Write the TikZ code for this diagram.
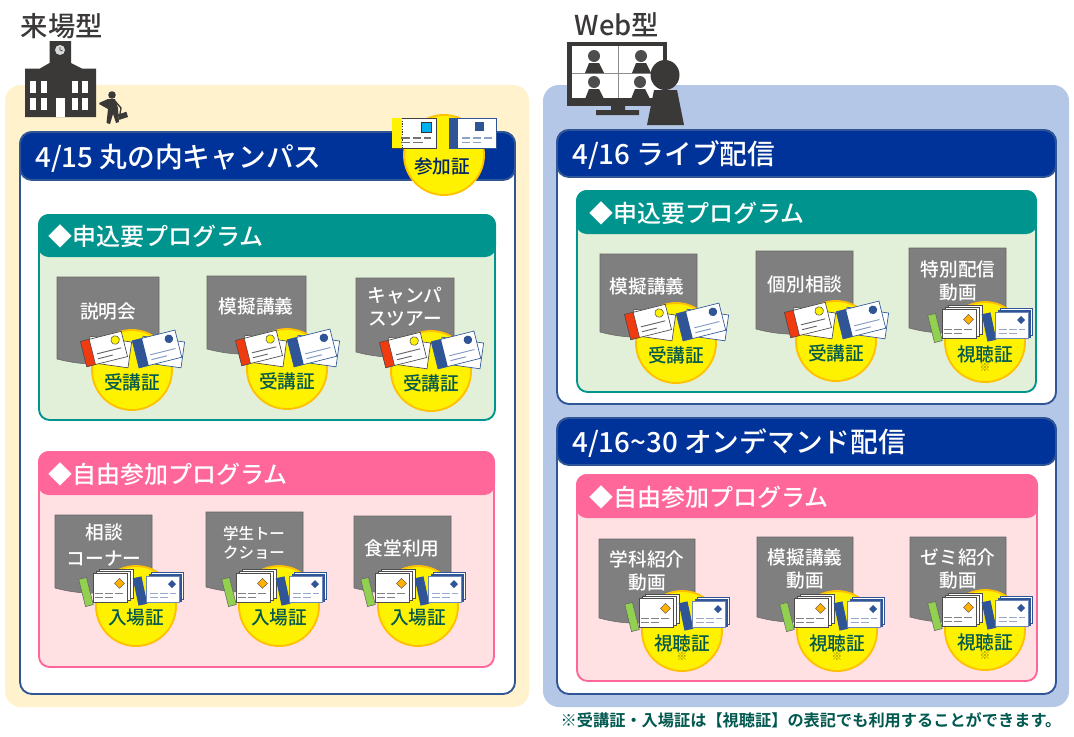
\documentclass[tikz,border=0pt]{standalone}
\usepackage{fontspec}
\setmainfont[BoldFont={Noto Sans CJK JP Bold}]{Noto Sans CJK JP}
\newfontfamily\jpmed{Noto Sans CJK JP Medium}
\usetikzlibrary{calc}

\definecolor{inkdark}{HTML}{3B3838}
\definecolor{beigebg}{HTML}{FFF2CC}
\definecolor{bluebg}{HTML}{B4C7E7}
\definecolor{navyhead}{HTML}{003399}
\definecolor{navyline}{HTML}{2F5597}
\definecolor{tealhead}{HTML}{00948E}
\definecolor{tealbody}{HTML}{E2F0D9}
\definecolor{pinkhead}{HTML}{FF6699}
\definecolor{pinkbody}{HTML}{FFE1E4}
\definecolor{taggray}{HTML}{7F7F7F}
\definecolor{badgeline}{HTML}{FFC000}
\definecolor{badgetext}{HTML}{00584F}
\definecolor{cardred}{HTML}{F03A0F}
\definecolor{cardgreen}{HTML}{92D050}
\definecolor{skyblue}{HTML}{00B0F0}
\definecolor{gold}{HTML}{FFB000}

\tikzset{
  x=0.75pt, y=-0.75pt,
  titletext/.style={font=\jpmed\fontsize{20.5}{24}\selectfont, text=inkdark, inner sep=0pt},
  headtext/.style={font=\jpmed\fontsize{20.8}{24}\selectfont, text=white, anchor=west, inner sep=0pt},
  subheadtext/.style={font=\jpmed\fontsize{18}{22}\selectfont, text=white, anchor=west, inner sep=0pt},
  tagtext/.style={font=\jpmed\fontsize{14}{17}\selectfont, text=white, inner sep=0pt},
  tagsmall/.style={font=\jpmed\fontsize{11.6}{14}\selectfont, text=white, inner sep=0pt},
  badge/.style={circle, fill=yellow, draw=badgeline, line width=1.4pt, minimum size=60pt, inner sep=0pt},
  badgelabel/.style={font=\jpmed\fontsize{14}{17}\selectfont, text=badgetext, inner sep=0pt},
  paper/.style={fill=white, draw=#1, line width=0.5pt},
  paper/.default=black!70,
}

% outer frame with a navy title bar
\newcommand\mainframe[6]{% x1 y1 x2 y2 barbottom title
  \draw[fill=white, draw=navyline, line width=1.4pt, rounded corners=9pt] (#1,#2) rectangle (#3,#4);
  \draw[fill=navyhead, draw=navyline, line width=1.4pt, rounded corners=9pt] (#1,#2) rectangle (#3,#5);
  \node[headtext] at ($(#1,#2)!0.5!(#1,#5)+(15,2)$) {#6};
}
% inner block with a coloured heading bar
\newcommand\progblock[9]{% x1 y1 x2 y2 barbottom headcolour bodycolour title title-inset
  \draw[fill=#7, draw=#6, line width=1.4pt, rounded corners=8pt] (#1,#2) rectangle (#3,#4);
  \fill[#6, rounded corners=8pt] (#1-1,#2-1) rectangle (#3+1,#5);
  \node[subheadtext] at ($(#1,#2)!0.5!(#1,#5)+(#9,0.5)$) {#8};
}
% grey document shape with a wavy lower edge
\newcommand\doctag[4]{% x y w h
  \draw[fill=taggray, draw=black!60, line width=0.4pt]
    (#1,#2) -- (#1+#3,#2) -- (#1+#3,#2+#4-10)
    .. controls (#1+#3*0.65,#2+#4+8) and (#1+#3*0.3,#2+#4+8) .. (#1,#2+#4) -- cycle;
}
% yellow disc with its caption
\newcommand\badge[4]{% name x y caption
  \node[badge] (#1) at (#2,#3) {};
  \node[badgelabel] (#1t) at ($(#1)+(0,12)$) {#4};
}
% tilted pair of cards, red and blue
\newcommand\tiltcards[1]{%
  \begin{scope}[shift={(#1)}]
    \begin{scope}[shift={(-23,-18)}, rotate=-8]
      \draw[paper] (-21,-13) rectangle (21,13);
    \end{scope}
    \begin{scope}[shift={(-28,-21)}, rotate=14]
      \draw[paper] (-21,-13) rectangle (21,13);
      \draw[fill=cardred, draw=black!70, line width=0.4pt] (-21,-13) rectangle (-12,13);
      \draw[fill=yellow, draw=black!70, line width=0.4pt] (13,-6) circle (4.3);
      \draw[black!60, line width=0.7pt] (-8,3) -- (17,3) (-8,8) -- (7,8);
    \end{scope}
    \begin{scope}[shift={(30,-18)}, rotate=-8]
      \draw[paper=navyline] (-21,-13) rectangle (21,13);
    \end{scope}
    \begin{scope}[shift={(25,-21)}, rotate=14]
      \draw[paper=navyline] (-22,-14) rectangle (22,14);
      \fill[navyline] (-22,-14) rectangle (-12,14);
      \fill[navyline] (14,-7) circle (4.3);
      \draw[navyline!60, line width=0.7pt] (-8,4) -- (18,4) (-8,9) -- (8,9);
    \end{scope}
  \end{scope}
}
% upright stacks with a slanted strip beside each
\newcommand\stackcards[1]{%
  \begin{scope}[shift={(#1)}]
    \begin{scope}[shift={(-50,-14)}, rotate=14]
      \draw[fill=cardgreen, draw=black!60, line width=0.4pt] (-4,-14) rectangle (4,14);
    \end{scope}
    \draw[paper] (-37,-37) rectangle (-3,-8);
    \draw[paper] (-40,-35) rectangle (-6,-6);
    \draw[paper] (-43,-33) rectangle (-9,-4);
    \draw[fill=gold, draw=black!70, line width=0.3pt] (-16.5,-27.7) -- (-11.5,-22.7) -- (-16.5,-17.7) -- (-21.5,-22.7) -- cycle;
    \draw[black!50, line width=1pt] (-41,-12.7) -- (-33,-12.7) (-31,-12.7) -- (-23,-12.7) (-21,-12.7) -- (-13,-12.7)
      (-41,-8.3) -- (-33,-8.3) (-31,-8.3) -- (-23,-8.3);
    \begin{scope}[shift={(4,-15)}, rotate=12]
      \fill[navyline] (-4.5,-14) rectangle (4.5,14);
    \end{scope}
    \draw[paper=navyline] (15,-34) rectangle (47,-7);
    \draw[fill=navyline, draw=navyline] (13,-32) rectangle (45,-5);
    \draw[paper=navyline!70] (10.5,-30) rectangle (43.5,-3.3);
    \fill[navyline] (36,-26) -- (40,-22) -- (36,-18) -- (32,-22) -- cycle;
    \draw[navyline!50, line width=1pt] (14,-12.7) -- (21.5,-12.7) (24,-12.7) -- (31.5,-12.7) (34,-12.7) -- (40,-12.7)
      (14,-8.3) -- (21.5,-8.3) (24,-8.3) -- (31.5,-8.3);
  \end{scope}
}
% viewer badge: stacks, disc and the small reference mark
\newcommand\viewbadge[3]{% name x y
  \badge{#1}{#2}{#3}{視聴証}
  \stackcards{#2,#3}
  \node[font=\fontsize{8}{9}\selectfont, text=olive, inner sep=0pt] (#1m) at ($(#1)+(0,26)$) {※};
}
\newcommand\iconperson[2]{% x y of the head
  \fill[white!10!inkdark] (#1,#2) circle (6);
  \fill[inkdark] (#1-5,#2+7) -- (#1+5,#2+7) -- (#1+10,#2+17) -- (#1-9,#2+17) -- cycle;
}

\begin{document}
\begin{tikzpicture}
\useasboundingbox (0,0) rectangle (1074,736);
\fill[white] (0,0) rectangle (1074,736);

% background panels
\fill[beigebg, rounded corners=12pt] (5,85) rectangle (529,707);
\fill[bluebg, rounded corners=12pt] (543,85) rectangle (1069,707);

% campus building
\node[titletext] (titleL) at (62,26) {来場型};
\fill[inkdark] (49.5,41) rectangle (71,63) (49.5,63) -- (71,63) -- (71,63) -- (82,68.5) -- (96,68.5) -- (96,117) -- (25,117) -- (25,68.5) -- (40,68.5) -- cycle;
\fill[black!15] (60,50) circle (5);
\draw[inkdark, line width=0.5pt] (60,47) -- (60,50) -- (62.5,51);
\foreach \wx in {30,40.5,71.5,82} \foreach \wy in {81,98} \fill[white] (\wx,\wy) rectangle +(6,12);
\fill[white] (56,98) rectangle (65,117);
% walking figure
\fill[inkdark] (112,95) circle (3.8);
\fill[inkdark] (108,99) -- (115,99) -- (118,108) -- (119,122) -- (116,123) -- (113,114) -- (110,124) -- (106.5,123) -- (108,109) -- (99,104) -- (100,102.5) -- cycle;
\draw[inkdark, line width=1pt] (115,101) -- (121,108) -- (120,114);
\fill[inkdark, rotate around={18:(123,116)}] (118.5,113) rectangle (127.5,118.5);

% web viewing icon
\node[titletext] (titleR) at (617,25) {Web型};
\fill[inkdark] (567,42) rectangle (667,106);
\fill[white] (572,46) rectangle (663,98);
\draw[black!45, line width=0.7pt] (618,46) -- (618,98) (572,73) -- (663,73);
\fill[inkdark] (611,106) rectangle (625,110) (596,110) rectangle (639,115);
\iconperson{594}{56}
\iconperson{641}{56}
\iconperson{594}{82}
\iconperson{640}{82}
\fill[inkdark] (665,75) ellipse (14.5 and 15);
\fill[inkdark] (654,90) -- (677,90) -- (684,125) -- (647,125) -- cycle;

% campus column
\mainframe{20}{132}{515}{694}{180}{4/15 丸の内キャンパス}
\progblock{39}{215}{495}{420}{257}{tealhead}{tealbody}{◆申込要プログラム}{9}
\progblock{39}{452}{494}{667}{495}{pinkhead}{pinkbody}{◆自由参加プログラム}{9}

% pass badge in the campus title bar
\node[badge] (passB) at (444,155) {};
\node[badgelabel, text=navyhead!70!black] (passBt) at (442,166) {参加証};
\draw[fill=white, draw=black!75, line width=0.5pt] (392,118) rectangle (436,148);
\fill[yellow] (392.3,118.3) rectangle (402,147.7);
\draw[black!80, dash pattern=on 1pt off 1pt, line width=0.4pt] (402,118) -- (402,148);
\draw[fill=skyblue, draw=black!80, line width=0.6pt] (421,122) rectangle (431,132);
\draw[black!55, line width=0.8pt] (401,138) -- (410,138) (413,138) -- (421,138) (424,138) -- (431,138) (401,142.5) -- (410,142.5) (413,142.5) -- (423,142.5);
\draw[fill=white, draw=navyline, line width=0.5pt] (449,118) rectangle (496,148);
\fill[navyline] (449,118) rectangle (458,148);
\fill[navyline] (475,122) rectangle (484,131);
\draw[navyline!55, line width=0.8pt] (462,138) -- (470,138) (473,138) -- (481,138) (484,138) -- (492,138) (462,142.5) -- (470,142.5) (473,142.5) -- (481,142.5);

% campus programmes with registration
\doctag{57}{277}{102}{82}
\node[tagtext] (tA) at (108,311) {説明会};
\badge{bA}{132}{370}{受講証}
\tiltcards{132,370}
\doctag{207}{276}{99}{73}
\node[tagtext] (tB) at (256,306) {模擬講義};
\badge{bB}{287}{369}{受講証}
\tiltcards{287,369}
\doctag{356}{278}{98}{74}
\node[tagtext, align=center] (tC) at (405,307) {キャンパ\\スツアー};
\badge{bC}{431}{371}{受講証}
\tiltcards{431,371}

% campus programmes open to all
\doctag{55}{515}{97}{73}
\node[tagtext, align=center, font=\jpmed\fontsize{14}{19.5}\selectfont] (tD) at (104,545) {相談\\コーナー};
\badge{bD}{136}{606}{入場証}
\stackcards{136,606}
\doctag{206}{512}{97}{75}
\node[tagsmall, align=center] (tE) at (254,543) {学生トー\\クショー};
\badge{bE}{279}{606}{入場証}
\stackcards{279,606}
\doctag{354}{516}{97}{72}
\node[tagtext] (tF) at (402,548) {食堂利用};
\badge{bF}{418}{606}{入場証}
\stackcards{418,606}

% live stream frame
\mainframe{557}{130}{1056}{404}{177}{4/16 ライブ配信}
\progblock{577}{191}{1036}{392}{234}{tealhead}{tealbody}{◆申込要プログラム}{12}
\doctag{600}{254}{97}{78}
\node[tagtext] (tG) at (647,286) {模擬講義};
\badge{bG}{676}{343}{受講証}
\tiltcards{676,343}
\doctag{756}{251}{97}{78}
\node[tagtext] (tH) at (805,284) {個別相談};
\badge{bH}{836}{341}{受講証}
\tiltcards{836,341}
\doctag{909}{248}{97}{80}
\node[tagtext, align=center] (tI) at (958,281) {特別配信\\動画};
\viewbadge{bI}{985}{342}

% on-demand frame
\mainframe{557}{418}{1056}{694}{465}{4/16\textasciitilde 30 オンデマンド配信}
\progblock{577}{475}{1037}{681}{518}{pinkhead}{pinkbody}{◆自由参加プログラム}{12}
\doctag{599}{539}{96}{79}
\node[tagtext, align=center] (tJ) at (647,571) {学科紹介\\動画};
\viewbadge{bJ}{682}{631}
\doctag{757}{537}{96}{80}
\node[tagtext, align=center] (tK) at (805,569) {模擬講義\\動画};
\viewbadge{bK}{837}{631}
\doctag{910}{537}{96}{80}
\node[tagtext, align=center] (tL) at (958,569) {ゼミ紹介\\動画};
\viewbadge{bL}{985}{630}

% closing note
\node[font=\bfseries\fontsize{12.15}{14}\selectfont, text=badgetext, inner sep=0pt] (note) at (811,720) {※受講証・入場証は【視聴証】の表記でも利用することができます。};
\end{tikzpicture}
\end{document}
